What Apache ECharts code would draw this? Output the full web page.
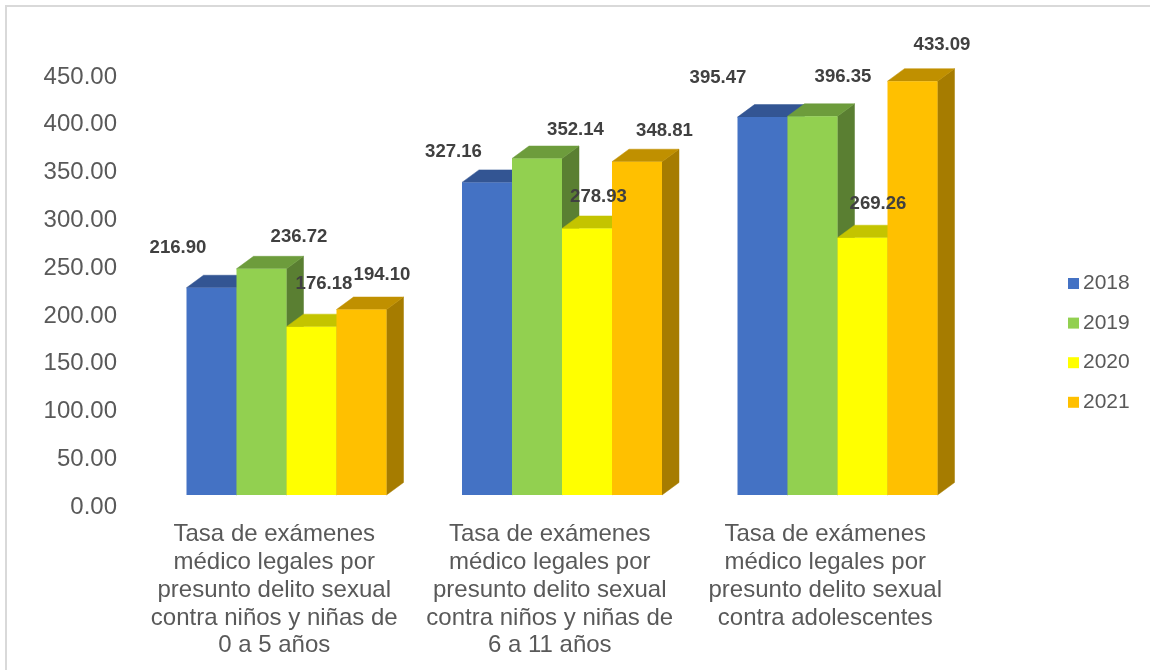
<!DOCTYPE html>
<html><head><meta charset="utf-8">
<style>html,body{margin:0;padding:0;background:#fff}#c{width:1150px;height:671px}</style>
<script src="https://cdn.jsdelivr.net/npm/echarts@6/dist/echarts.min.js"></script>
</head><body><div id="c"></div>
<script>
const categories = [
  'Tasa de exámenes\nmédico legales por\npresunto delito sexual\ncontra niños y niñas de\n0 a 5 años',
  'Tasa de exámenes\nmédico legales por\npresunto delito sexual\ncontra niños y niñas de\n6 a 11 años',
  'Tasa de exámenes\nmédico legales por\npresunto delito sexual\ncontra adolescentes'
];
const years = ['2018','2019','2020','2021'];
const v2018 = [216.90, 327.16, 395.47];
const v2019 = [236.72, 352.14, 396.35];
const v2020 = [176.18, 278.93, 269.26];
const v2021 = [194.10, 348.81, 433.09];
const seriesValues = [v2018, v2019, v2020, v2021];

const faces = [
  {front:'#4472C4', top:'#335593', side:'#2A4A85'},
  {front:'#92D050', top:'#6D9C3C', side:'#5A7F32'},
  {front:'#FFFF00', top:'#C4C400', side:'#A8A800'},
  {front:'#FFC000', top:'#C09000', side:'#A67C00'}
];
// manual placement of the value labels, relative to the top centre of each bar [series][group]
const labelShift = [
  [[-33.5,-40],[-33.5,-31],[-44.5,-39]],
  [[37.5,-32],[38.5,-28.5],[30.5,-39]],
  [[12.5,-43],[11.5,-31.5],[15.5,-33.7]],
  [[20.5,-34.5],[27.5,-30.7],[29.5,-36]]
];
const BAR = 50, DX = 17, DEPTH_Y = 12.5, BASE_LIFT = 12, SHIFT_X = 12.25;

function poly(points, fill, z2){
  return {type:'polygon', z2, shape:{points}, style:{fill, stroke:fill, lineWidth:0.5}};
}
function render(si){
  return function(params, api){
    const gi = api.value(0);
    const p = api.coord([gi, api.value(1)]);
    const b = api.coord([gi, 0]);
    const xl = p[0] + SHIFT_X + (si-2)*BAR;
    const xr = xl + BAR;
    const top = p[1] - BASE_LIFT, base = b[1] - BASE_LIFT;
    const f = faces[si];
    const s = labelShift[si][gi];
    return {type:'group', children:[
      poly([[xr,top],[xr+DX,top-DEPTH_Y],[xr+DX,base-DEPTH_Y],[xr,base]], f.side, si*3+1),
      poly([[xl,top],[xl+DX,top-DEPTH_Y],[xr+DX,top-DEPTH_Y],[xr,top]], f.top, si*3+2),
      {type:'rect', z2:si*3+3, shape:{x:xl,y:top,width:BAR,height:base-top}, style:{fill:f.front}},
      {type:'text', z2:100, x:(xl+xr)/2+s[0], y:top+s[1], style:{
        text:api.value(1).toFixed(2), align:'center', verticalAlign:'middle',
        font:'bold 18.6px "Liberation Sans", Arial, sans-serif', fill:'#404040'}}
    ]};
  };
}
const chart = echarts.init(document.getElementById('c'), null, {renderer:'canvas'});
chart.setOption({
  animation:false,
  backgroundColor:'#fff',
  graphic:[
    {type:'line', silent:true, shape:{x1:6,y1:6,x2:1150,y2:6}, style:{stroke:'#D9D9D9', lineWidth:2}},
    {type:'line', silent:true, shape:{x1:6,y1:5,x2:6,y2:670}, style:{stroke:'#D9D9D9', lineWidth:2}}
  ],
  grid:{left:136.5, right:187, top:77, bottom:164, containLabel:false},
  legend:{orient:'vertical', left:1068, top:273, padding:0, icon:'rect', itemWidth:11, itemHeight:11, itemGap:18.6,
    textStyle:{fontFamily:'"Liberation Sans", Arial, sans-serif', fontSize:21, color:'#595959', padding:[0,0,0,-1]},
    data:years},
  xAxis:{type:'category', data:categories, axisLine:{show:false}, axisTick:{show:false},
    axisLabel:{interval:0, margin:14, lineHeight:27.7, color:'#595959', fontSize:24, verticalAlign:'top',
      fontFamily:'"Liberation Sans", Arial, sans-serif'}},
  yAxis:{type:'value', min:0, max:450, interval:50, splitLine:{show:false}, axisLine:{show:false}, axisTick:{show:false},
    axisLabel:{formatter:v=>v.toFixed(2), margin:19.5, color:'#595959', fontSize:24, padding:[2,0,0,0],
      fontFamily:'"Liberation Sans", Arial, sans-serif'}},
  series: years.map((y,si)=>({
    type:'custom', name:y, renderItem:render(si), clip:false,
    itemStyle:{color:faces[si].front},
    encode:{x:0,y:1},
    data:seriesValues[si].map((v,i)=>[i,v])
  }))
});
</script></body></html>
